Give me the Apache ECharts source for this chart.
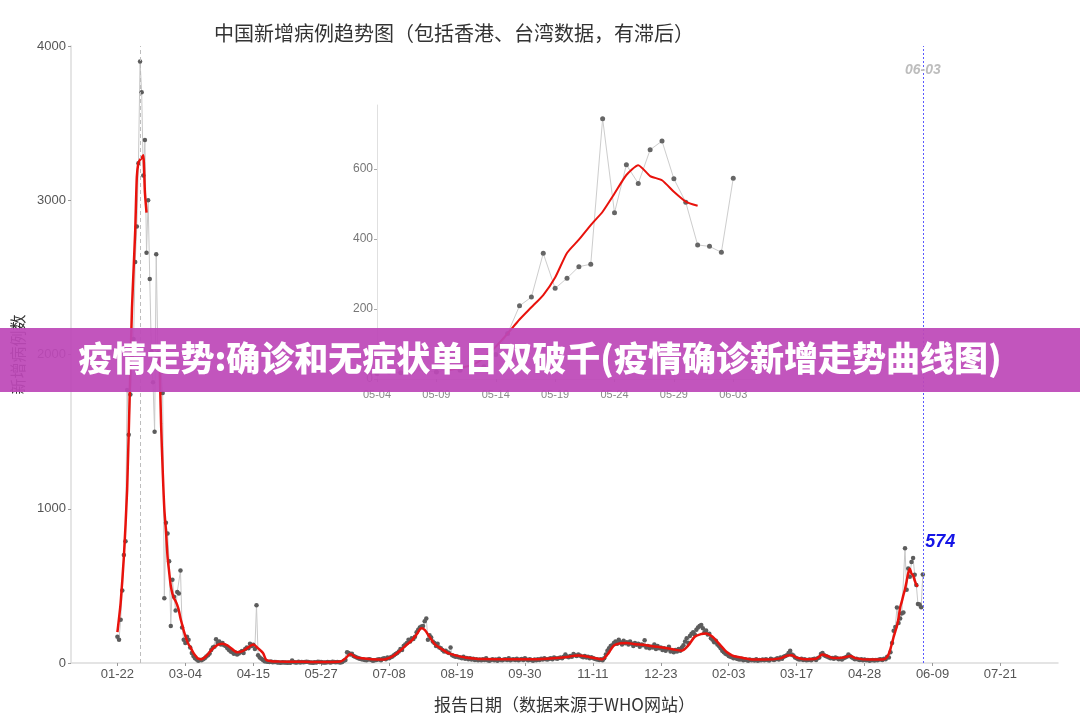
<!DOCTYPE html>
<html>
<head>
<meta charset="utf-8">
<title>中国新增病例趋势图</title>
<script src="https://cdn.jsdelivr.net/npm/echarts@6.0.0/dist/echarts.min.js"></script>
<style>
  html, body { margin: 0; padding: 0; background: #fff; }
  #chart_main { width: 1080px; height: 720px; }
</style>
</head>
<body>
<div id="chart_main"></div>
<script type="text/javascript">
// day 0 = 2020-01-22, one value per day (WHO report date)
var dailyCases = [
  170,150,280,470,700,790,1770,
  1480,1740,1980,2100,2600,2830,3240,
  3900,3700,3160,3390,2660,3000,2490,
  2020,1820,1500,2650,2010,2050,1890,
  1750,420,910,840,660,240,540,
  430,340,460,450,600,230,150,
  130,170,150,100,65,45,30,
  22,15,20,18,25,30,42,
  50,62,85,100,105,154,130,
  140,120,130,115,110,95,85,
  75,70,60,68,55,62,70,
  78,65,90,100,95,125,110,
  118,90,375,50,35,28,20,
  12,10,8,6,9,5,7,
  6,4,3,2,5,3,4,
  2,3,2,17,6,4,3,
  8,4,6,5,7,8,6,
  4,3,2,5,4,8,7,
  6,3,4,3,6,5,4,
  8,6,5,7,5,4,6,
  15,20,70,65,55,60,45,
  40,35,30,28,25,22,20,
  18,22,25,20,15,18,20,
  22,25,18,28,30,25,35,
  30,38,42,50,58,65,75,
  90,85,110,120,130,150,140,
  160,155,170,200,215,230,237,
  240,270,288,150,180,165,140,
  130,110,125,100,95,85,75,
  80,70,65,100,50,45,40,
  42,38,35,30,40,28,32,
  25,30,22,28,20,25,18,
  22,18,25,20,30,18,15,
  20,25,18,22,15,28,20,
  18,22,25,20,30,18,22,
  25,20,28,18,22,26,20,
  30,22,18,25,20,15,22,
  18,25,20,28,22,30,25,
  22,28,30,25,35,30,28,
  32,35,30,40,55,42,38,
  45,40,58,50,45,55,48,
  42,38,45,35,40,30,38,
  32,28,25,22,20,25,18,
  30,55,80,95,110,115,130,
  140,125,150,135,120,145,128,
  135,120,140,125,110,130,118,
  125,105,120,115,147,100,110,
  95,105,100,120,90,110,95,
  100,85,95,80,90,105,75,
  80,70,85,75,90,80,100,
  115,140,160,130,175,190,200,
  185,215,230,240,247,225,200,
  210,185,190,160,150,135,145,
  120,110,95,80,70,60,55,
  45,40,38,30,35,28,25,
  22,28,18,25,20,15,22,
  18,20,16,24,15,20,18,
  22,18,25,20,16,28,22,
  20,25,30,22,35,28,40,
  45,50,65,80,55,48,35,
  30,25,22,28,20,24,18,
  20,22,18,25,28,20,30,
  35,58,65,50,45,40,35,
  30,32,28,35,30,25,28,
  22,30,35,40,55,45,38,
  30,25,28,22,20,25,18,
  22,18,20,15,18,20,16,
  20,18,22,25,20,28,25,
  40,35,70,130,209,234,359,
  259,288,321,328,744,475,612,
  559,655,680,572,505,383,379,
  362,574
];

// smoothed trend [day, value], broken where the raw series jumps
var trendEarly = [
  [0,200],[2,390],[4,690],[6,1120],[8,1900],[9,2300],[10,2550],[11,2800],
  [12,3150],[13,3245],[14,3262],[15,3275],[16,3292],[17,3050],[18,2920]
];
var trendLate = [
  [26,2000],[27,1550],[28,1250],[29,1000],[30,860],[31,690],[32,590],[33,500],
  [34,450],[35,420],[36,400],[37,375],[38,340],[39,290],[40,250],[41,210],
  [42,175],[43,145],[44,120],[45,105],[46,85],[47,65],[48,50],[49,38],[50,28],
  [52,25],[55,45],[57,70],[60,103],[63,122],[65,125],[68,114],[71,90],[74,69],
  [77,75],[80,95],[84,120],[87,95],[90,65],[92,20],[95,12],[100,10],[110,8],
  [120,7],[130,7],[138,10],[141,30],[144,58],[147,40],[150,32],[157,25],
  [164,22],[170,43],[173,65],[176,91],[179,120],[182,147],[185,185],[188,225],
  [190,215],[192,185],[196,125],[199,100],[202,80],[205,62],[209,50],[215,36],
  [225,26],[240,25],[260,25],[275,35],[285,48],[292,38],[300,25],[303,55],
  [305,85],[307,114],[311,128],[315,130],[320,122],[325,119],[330,110],
  [334,105],[340,96],[345,85],[349,80],[353,114],[357,170],[361,188],[364,192],
  [368,170],[372,125],[375,90],[377,69],[380,50],[383,40],[391,25],[400,22],
  [410,30],[414,48],[417,51],[420,35],[425,25],[432,28],[436,55],[439,45],
  [443,32],[450,38],[453,45],[457,30],[465,22],[474,25],[476,40],[477,60],
  [478,92],[479,130],[480,170],[481,205],[482,240],[483,290],[484,360],
  [485,398],[486,440],[487,478],[488,530],[489,583],[490,611],[491,580],
  [492,568],[493,535],[494,507],[495,495]
];

var mainTicks = [0,42,84,126,168,210,252,294,336,378,420,462,504,546];
var mainTickLabels = ['01-22','03-04','04-15','05-27','07-08','08-19','09-30',
                      '11-11','12-23','02-03','03-17','04-28','06-09','07-21'];
var yTicks = [0,1000,2000,3000,4000];

var insetTicks = [468,473,478,483,488,493,498];
var insetTickLabels = ['05-04','05-09','05-14','05-19','05-24','05-29','06-03'];
var insetYTicks = [0,200,400,600];

var peakDay = 14;
var lastDay = dailyCases.length - 1;
var lastValue = dailyCases[lastDay];
var lastLabel = insetTickLabels[insetTickLabels.length - 1];

var cjk = '"Noto Sans CJK SC", "Noto Sans", sans-serif';
var latin = '"Liberation Sans", Arial, sans-serif';

var rawPts = dailyCases.map(function (v, i) { return [i, v]; });
var insetRaw = rawPts.filter(function (p) { return p[0] >= insetTicks[0]; });
var insetTrend = trendLate.filter(function (p) { return p[0] >= insetTicks[0]; });

function tickFmt(ticks, labels) {
    return function (v) {
        var i = ticks.indexOf(v);
        return i >= 0 ? labels[i] : '';
    };
}
function plainNum(v) { return String(v); }

var myChart = echarts.init(document.getElementById('chart_main'));
var option = {
    animation: false,
    backgroundColor: '#fff',
    grid: [
        {left: 71, right: 22, top: 46, bottom: 57},
        {left: 377, top: 105, width: 380, height: 274}
    ],
    xAxis: [{
        type: 'value', gridIndex: 0, min: -28.7, max: 581.6,
        name: '报告日期（数据来源于WHO网站）', nameLocation: 'middle', nameGap: 33,
        nameTextStyle: {fontFamily: cjk, fontSize: 17, color: '#333'},
        axisLine: {onZero: false, lineStyle: {color: '#dcdcdc', width: 1.5}},
        axisTick: {customValues: mainTicks, length: 3, lineStyle: {color: '#999'}},
        axisLabel: {customValues: mainTicks, formatter: tickFmt(mainTicks, mainTickLabels),
                    margin: 5, fontFamily: latin, fontSize: 13, color: '#555'},
        splitLine: {show: false}
    }, {
        type: 'value', gridIndex: 1, min: 468, max: 500,
        axisLine: {onZero: false, lineStyle: {color: '#e0e0e0'}},
        axisTick: {customValues: insetTicks, length: 3, lineStyle: {color: '#aaa'}},
        axisLabel: {customValues: insetTicks, formatter: tickFmt(insetTicks, insetTickLabels),
                    margin: 10, fontFamily: latin, fontSize: 11, color: '#888'},
        splitLine: {show: false}
    }],
    yAxis: [{
        type: 'value', gridIndex: 0, min: 0, max: 4000,
        name: '新增病例数', nameLocation: 'middle', nameGap: 43,
        nameTextStyle: {fontFamily: cjk, fontSize: 16, color: '#333'},
        axisLine: {show: true, onZero: false, lineStyle: {color: '#dcdcdc', width: 1.5}},
        axisTick: {show: true, customValues: yTicks, length: 3, lineStyle: {color: '#999'}},
        axisLabel: {customValues: yTicks, formatter: plainNum, margin: 5,
                    fontFamily: latin, fontSize: 13, color: '#555'},
        splitLine: {show: false}
    }, {
        type: 'value', gridIndex: 1, min: 0, max: 783,
        axisLine: {show: true, onZero: false, lineStyle: {color: '#e0e0e0'}},
        axisTick: {show: true, customValues: insetYTicks, length: 3, lineStyle: {color: '#aaa'}},
        axisLabel: {customValues: insetYTicks, formatter: plainNum, margin: 4,
                    fontFamily: latin, fontSize: 12, color: '#777'},
        splitLine: {show: false}
    }],
    series: [{
        name: 'raw', type: 'line', xAxisIndex: 0, yAxisIndex: 0,
        data: rawPts, symbol: 'circle', symbolSize: 4.5, showSymbol: true,
        lineStyle: {color: '#c8c8c8', width: 1},
        itemStyle: {color: '#5c5c5c', borderWidth: 0},
        z: 2,
        markPoint: {
            silent: true, symbol: 'rect', symbolSize: 1,
            itemStyle: {color: 'rgba(0,0,0,0)'},
            data: [{
                coord: [lastDay, 3842],
                label: {show: true, position: 'inside', formatter: lastLabel,
                        fontFamily: latin, fontSize: 14, fontStyle: 'italic',
                        fontWeight: 'bold', color: '#bdbdbd'}
            }, {
                coord: [lastDay, 784],
                label: {show: true, position: 'right', distance: 2, formatter: String(lastValue),
                        fontFamily: latin, fontSize: 18, fontStyle: 'italic',
                        fontWeight: 'bold', color: '#1414e6'}
            }]
        }
    }, {
        name: 'trend1', type: 'line', xAxisIndex: 0, yAxisIndex: 0,
        data: trendEarly, showSymbol: false, smooth: 0.2,
        lineStyle: {color: '#e8120c', width: 2.5}, z: 3,
        markLine: {
            silent: true, symbol: 'none', label: {show: false},
            lineStyle: {color: '#bdbdbd', type: [4, 3], width: 1},
            data: [{xAxis: peakDay}]
        }
    }, {
        name: 'trend2', type: 'line', xAxisIndex: 0, yAxisIndex: 0,
        data: trendLate, showSymbol: false, smooth: 0.3,
        lineStyle: {color: '#e8120c', width: 2.5}, z: 3,
        markLine: {
            silent: true, symbol: 'none', label: {show: false},
            lineStyle: {color: '#5a5aff', type: [2, 2], width: 1},
            data: [{xAxis: lastDay}]
        }
    }, {
        name: 'insetRaw', type: 'line', xAxisIndex: 1, yAxisIndex: 1,
        data: insetRaw, symbol: 'circle', symbolSize: 5, showSymbol: true,
        lineStyle: {color: '#cdcdcd', width: 1},
        itemStyle: {color: '#666'}, z: 4
    }, {
        name: 'insetTrend', type: 'line', xAxisIndex: 1, yAxisIndex: 1,
        data: insetTrend, showSymbol: false, smooth: 0.2,
        lineStyle: {color: '#e8120c', width: 2}, z: 5
    }],
    graphic: [{
        type: 'text', left: 214, top: 23, z: 50,
        style: {text: '中国新增病例趋势图（包括香港、台湾数据，有滞后）',
                font: 'normal 20px ' + cjk, fill: '#333'}
    }, {
        type: 'rect', left: 0, top: 328, z: 100,
        shape: {width: 1080, height: 64},
        style: {fill: 'rgba(189,72,184,0.93)'}
    }, {
        type: 'text', left: 'center', top: 341, z: 101,
        style: {text: '疫情走势:确诊和无症状单日双破千(疫情确诊新增走势曲线图)',
                font: '900 34px ' + cjk, fill: '#fff'}
    }]
};
myChart.setOption(option);
</script>
</body>
</html>
